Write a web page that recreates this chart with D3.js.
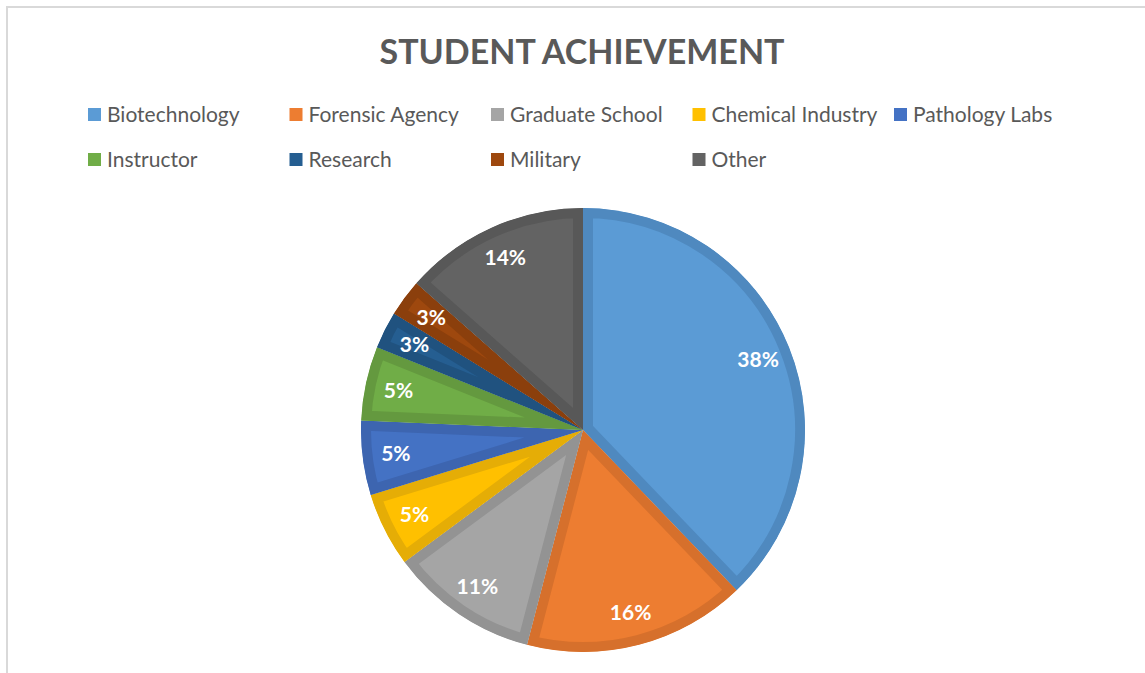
<!doctype html>
<html>
<head>
  <meta charset="utf-8">
  <script src="https://d3js.org/d3.v7.min.js"></script>
  <style>
    body {margin: 0; background: #fff;}
    text {font-family: Lato, "Open Sans", sans-serif;}
  </style>
</head>
<body>
  <svg id="chart" width="1145" height="673"></svg>
  <script>
    const width = 1145, height = 673

    // counts (they give 38/16/11/5/5/5/3/3/14 %)
    const categories = ['Biotechnology', 'Forensic Agency', 'Graduate School', 'Chemical Industry',
      'Pathology Labs', 'Instructor', 'Research', 'Military', 'Other']
    const counts = [14, 6, 4, 2, 2, 2, 1, 1, 5]
    const fills = ['#5b9bd5', '#ed7d31', '#a5a5a5', '#ffc000', '#4472c4', '#70ad47', '#255e91', '#9e480e', '#636363']
    const edges = ['#4f89bf', '#d6702c', '#939393', '#e5ad06', '#3d65b0', '#64993f', '#20527f', '#8b3f0c', '#585858']

    const svg = d3.select('#chart')

    // chart frame (only top + left visible)
    svg.append('path')
      .attr('d', `M7,${height + 5} L7,7 L${width + 5},7`)
      .attr('fill', 'none')
      .attr('stroke', '#d9d9d9')
      .attr('stroke-width', 2)

    svg.append('text')
      .attr('x', 582).attr('y', 64)
      .attr('text-anchor', 'middle')
      .attr('font-size', 34).attr('font-weight', 'bold')
      .attr('fill', '#595959')
      .text('STUDENT ACHIEVEMENT')

    // legend, 5 per row
    const legend = svg.append('g')
    const item = legend.selectAll('g').data(categories).join('g')
      .attr('transform', (d, i) => `translate(${88 + (i % 5) * 201.5},${108 + Math.floor(i / 5) * 45})`)
    item.append('rect')
      .attr('width', 13).attr('height', 13)
      .attr('fill', (d, i) => fills[i])
    item.append('text')
      .attr('x', 19).attr('y', 14)
      .attr('font-size', 21)
      .attr('fill', '#595959')
      .text(d => d)

    // pie
    const cx = 583, cy = 430, r = 222
    const total = d3.sum(counts)
    const pie = d3.pie().sort(null)
    const arcs = pie(counts)
    const arc = d3.arc().innerRadius(0).outerRadius(r)
    const labelArc = d3.arc().innerRadius(r * 0.85).outerRadius(r * 0.85)

    const g = svg.append('g').attr('transform', `translate(${cx},${cy})`)
    const defs = svg.append('defs')
    defs.selectAll('clipPath').data(arcs).join('clipPath')
      .attr('id', (d, i) => 'clip' + i)
      .append('path').attr('d', arc)

    g.selectAll('path.slice').data(arcs).join('path')
      .attr('class', 'slice')
      .attr('d', arc)
      .attr('fill', (d, i) => fills[i])
      .attr('stroke', (d, i) => edges[i])
      .attr('stroke-width', 20)
      .attr('stroke-linejoin', 'miter')
      .attr('clip-path', (d, i) => `url(#clip${i})`)

    g.selectAll('text').data(arcs).join('text')
      .attr('transform', d => `translate(${labelArc.centroid(d)})`)
      .attr('text-anchor', 'middle')
      .attr('dy', '0.35em')
      .attr('font-size', 21).attr('font-weight', 'bold')
      .attr('fill', '#fff')
      .text(d => Math.round(d.data / total * 100) + '%')
  </script>
</body>
</html>
